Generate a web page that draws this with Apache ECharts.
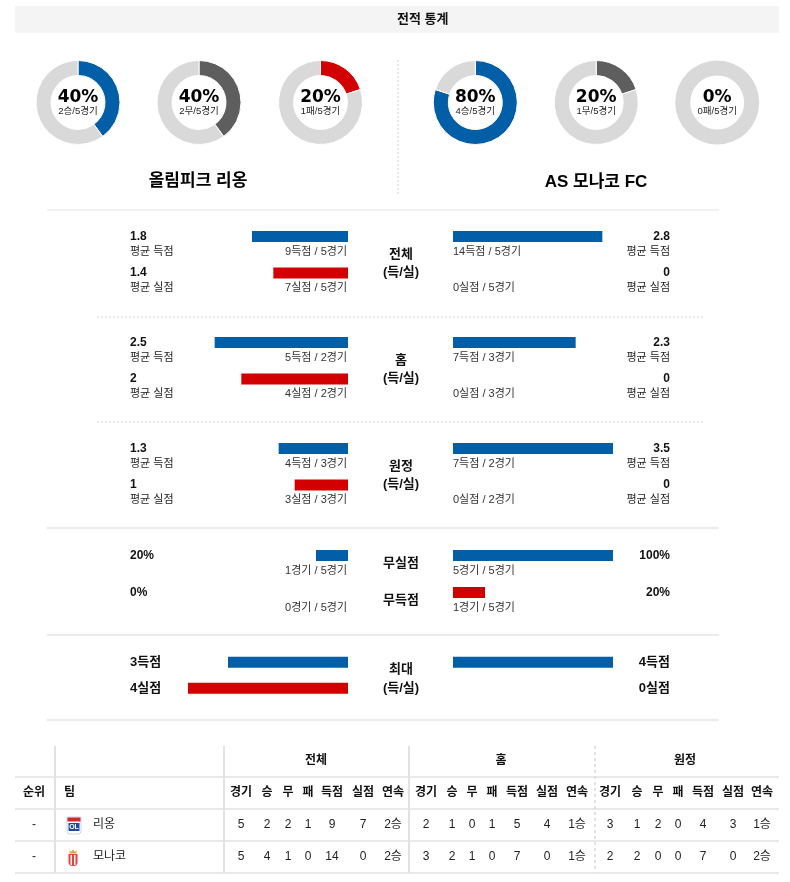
<!DOCTYPE html>
<html><head><meta charset="utf-8">
<script src="https://cdn.jsdelivr.net/npm/echarts@6/dist/echarts.min.js"></script>
<style>html,body{margin:0;padding:0;background:#fff}#c{width:790px;height:882px}</style>
</head><body><div id="c"></div><script>
// ---------------- data ----------------
const teamNames = ['올림피크 리옹', 'AS 모나코 FC'];
const shortNames = ['리옹', '모나코'];
const gamesTotal = [5, 5];
const resultKinds = ['승', '무', '패'];
const lyonResults = [2, 2, 1];
const monacoResults = [4, 1, 0];

const splitNames = ['전체', '홈', '원정'];
const lyonGames = [5, 2, 3];
const lyonGF = [9, 5, 4];
const lyonGA = [7, 4, 3];
const lyonAvgGF = [1.8, 2.5, 1.3];
const lyonAvgGA = [1.4, 2, 1];
const monacoGames = [5, 3, 2];
const monacoGF = [14, 7, 7];
const monacoGA = [0, 0, 0];
const monacoAvgGF = [2.8, 2.3, 3.5];
const monacoAvgGA = [0, 0, 0];

const zeroNames = ['무실점', '무득점'];
const lyonZeroGames = [1, 0];
const monacoZeroGames = [5, 1];

const maxNames = ['최대', '(득/실)'];
const lyonMax = [3, 4];
const monacoMax = [4, 0];

const tableGroups = ['전체', '홈', '원정'];
const tableCols = ['경기', '승', '무', '패', '득점', '실점', '연속'];
const lyonTable = [[5, 2, 2, 1, 9, 7, '2승'], [2, 1, 0, 1, 5, 4, '1승'], [3, 1, 2, 0, 4, 3, '1승']];
const monacoTable = [[5, 4, 1, 0, 14, 0, '2승'], [3, 2, 1, 0, 7, 0, '1승'], [2, 2, 0, 0, 7, 0, '2승']];

const avgAxisMax = 3, pctAxisMax = 100, maxAxisMax = 4;

// ---------------- style ----------------
const BLUE = '#025ea6', RED = '#d20000', DGRAY = '#5e5e5e', LGRAY = '#d9d9d9';
const LAT = '"Liberation Sans", Arial, "Noto Sans CJK KR", sans-serif';
const DJV = '"DejaVu Sans", "Noto Sans CJK KR", sans-serif';
const LINE = '#e4e4e4';

const g = [];
function txt(x, y, s, o) {
  o = o || {};
  g.push({ type: 'text', silent: true, z: 10, style: {
    x: x, y: y, text: String(s), fill: o.color || '#111',
    fontSize: o.size || 11, fontWeight: o.weight || 'normal', fontFamily: o.family || LAT,
    align: o.align || 'left', verticalAlign: 'middle' } });
}
function line(x1, y1, x2, y2, o) {
  o = o || {};
  g.push({ type: 'line', silent: true, z: 1, shape: { x1, y1, x2, y2 },
    style: { stroke: o.color || LINE, lineWidth: o.w || 1, lineDash: o.dash || null } });
}
function rect(x, y, w, h, fill, z) {
  g.push({ type: 'rect', silent: true, z: z || 5, shape: { x, y, width: w, height: h }, style: { fill } });
}

// title bar
rect(15, 6, 764, 27, '#f4f4f4', 0);
txt(397, 19.5, '전적 통계', { size: 13, weight: 'bold' });

// donuts
const series = [];
const donutX = [[78, 199, 320.5], [475.3, 596.2, 717.2]];
const donutY = 102.5;
const donutColors = [BLUE, DGRAY, RED];
[lyonResults, monacoResults].forEach((res, t) => {
  res.forEach((v, k) => {
    const pct = Math.round(v / gamesTotal[t] * 100);
    const both = v > 0 && v < gamesTotal[t];
    series.push({
      type: 'pie', silent: true, animation: false, center: [donutX[t][k], donutY], radius: [27, 42],
      startAngle: 90, label: { show: false }, labelLine: { show: false },
      data: [
        { value: v, itemStyle: { color: donutColors[k], borderColor: '#fff', borderWidth: both ? 1 : 0 } },
        { value: gamesTotal[t] - v, itemStyle: { color: LGRAY, borderColor: '#fff', borderWidth: both ? 1 : 0 } }
      ]
    });
    txt(donutX[t][k], donutY - 4.5, pct + '%', { size: 17, weight: 'bold', family: DJV, align: 'center', color: '#000' });
    txt(donutX[t][k], donutY + 9, v + resultKinds[k] + '/' + gamesTotal[t] + '경기', { size: 9.5, align: 'center', color: '#222' });
  });
});
line(398, 60, 398, 196, { dash: [2, 2], w: 1.5 });
txt(198, 181, teamNames[0], { size: 17, weight: 'bold', align: 'center', color: '#000' });
txt(596, 182, teamNames[1], { size: 17, weight: 'bold', align: 'center', color: '#000' });

// separators
line(47, 210, 719, 210, { w: 1 });
line(97, 317, 705, 317, { dash: [2, 2], w: 1.5 });
line(97, 422, 705, 422, { dash: [2, 2], w: 1.5 });
line(47, 528, 719, 528, { w: 1.5 });
line(47, 635, 719, 635, { w: 1.5 });
line(47, 720, 719, 720, { w: 1.5 });

// bar rows
const rowsY = [[236.5, 273], [342.5, 379], [448.5, 485], [555.5, 592.5], [662.3, 688.3]];
const grids = [], xAxes = [], yAxes = [];
function barGrid(side, rows, vals, colors, max) {
  const idx = grids.length;
  const gap = rows[1] - rows[0];
  grids.push({ left: side === 'L' ? 188 : 453, width: 160, top: rows[0] - gap / 2, height: gap * 2 });
  xAxes.push({ type: 'value', gridIndex: idx, min: 0, max: max, inverse: side === 'L', show: false });
  yAxes.push({ type: 'category', gridIndex: idx, data: ['a', 'b'], inverse: true, show: false });
  series.push({ type: 'bar', xAxisIndex: idx, yAxisIndex: idx, barWidth: 11, silent: true, animation: false,
    data: vals.map((v, i) => ({ value: v, itemStyle: { color: colors[i] } })) });
}
const gf = ' 득점', ga = ' 실점';
splitNames.forEach((nm, i) => {
  const r = rowsY[i];
  barGrid('L', r, [lyonAvgGF[i], lyonAvgGA[i]], [BLUE, RED], avgAxisMax);
  barGrid('R', r, [monacoAvgGF[i], monacoAvgGA[i]], [BLUE, RED], avgAxisMax);
  // left texts
  txt(130, r[0], lyonAvgGF[i], { size: 12, weight: 'bold' });
  txt(130, r[0] + 15, '평균' + gf, { size: 11, color: '#222' });
  txt(347, r[0] + 15, lyonGF[i] + '득점 / ' + lyonGames[i] + '경기', { size: 11, align: 'right', color: '#333' });
  txt(130, r[1], lyonAvgGA[i], { size: 12, weight: 'bold' });
  txt(130, r[1] + 15, '평균' + ga, { size: 11, color: '#222' });
  txt(347, r[1] + 15, lyonGA[i] + '실점 / ' + lyonGames[i] + '경기', { size: 11, align: 'right', color: '#333' });
  // right texts
  txt(670, r[0], monacoAvgGF[i], { size: 12, weight: 'bold', align: 'right' });
  txt(670, r[0] + 15, '평균' + gf, { size: 11, align: 'right', color: '#222' });
  txt(453, r[0] + 15, monacoGF[i] + '득점 / ' + monacoGames[i] + '경기', { size: 11, color: '#333' });
  txt(670, r[1], monacoAvgGA[i], { size: 12, weight: 'bold', align: 'right' });
  txt(670, r[1] + 15, '평균' + ga, { size: 11, align: 'right', color: '#222' });
  txt(453, r[1] + 15, monacoGA[i] + '실점 / ' + monacoGames[i] + '경기', { size: 11, color: '#333' });
  // center
  txt(401, r[0] + 18, nm, { size: 13, weight: 'bold', align: 'center' });
  txt(401, r[0] + 36, '(득/실)', { size: 13, weight: 'bold', align: 'center' });
});

// clean sheets / failed to score
{
  const r = rowsY[3];
  const lp = lyonZeroGames.map(v => v / gamesTotal[0] * 100);
  const mp = monacoZeroGames.map(v => v / gamesTotal[1] * 100);
  barGrid('L', r, lp, [BLUE, RED], pctAxisMax);
  barGrid('R', r, mp, [BLUE, RED], pctAxisMax);
  [0, 1].forEach(j => {
    txt(130, r[j], lp[j] + '%', { size: 12, weight: 'bold' });
    txt(347, r[j] + 15, lyonZeroGames[j] + '경기 / ' + gamesTotal[0] + '경기', { size: 11, align: 'right', color: '#333' });
    txt(670, r[j], mp[j] + '%', { size: 12, weight: 'bold', align: 'right' });
    txt(453, r[j] + 15, monacoZeroGames[j] + '경기 / ' + gamesTotal[1] + '경기', { size: 11, color: '#333' });
    txt(401, r[j] + 8, zeroNames[j], { size: 13, weight: 'bold', align: 'center' });
  });
}

// max
{
  const r = rowsY[4];
  barGrid('L', r, lyonMax, [BLUE, RED], maxAxisMax);
  barGrid('R', r, monacoMax, [BLUE, RED], maxAxisMax);
  const suf = ['득점', '실점'];
  [0, 1].forEach(j => {
    txt(130, r[j], lyonMax[j] + suf[j], { size: 13, weight: 'bold' });
    txt(670, r[j], monacoMax[j] + suf[j], { size: 13, weight: 'bold', align: 'right' });
  });
  txt(401, 669, maxNames[0], { size: 13, weight: 'bold', align: 'center' });
  txt(401, 688, maxNames[1], { size: 13, weight: 'bold', align: 'center' });
}

// ---------------- table ----------------
const TL = '#e2e2e2';
[777, 809, 841, 873].forEach(y => line(15, y, 779, y, { color: TL, w: 1.5 }));
line(55, 746, 55, 873, { color: TL, w: 2 });
line(224, 746, 224, 873, { color: TL, w: 2 });
line(409, 746, 409, 873, { color: TL, w: 2 });
line(595, 746, 595, 873, { color: TL, w: 2, dash: [3, 3] });
const groupX = [316, 501, 685];
const colX = [[241, 267, 288, 308, 332, 363, 393], [426, 452, 472, 492, 517, 547, 577], [610, 637, 658, 678, 703, 733, 762]];
tableGroups.forEach((nm, gi) => {
  txt(groupX[gi], 761, nm, { size: 12, weight: 'bold', align: 'center' });
  tableCols.forEach((c, ci) => txt(colX[gi][ci], 793, c, { size: 12, weight: 'bold', align: 'center' }));
  [lyonTable, monacoTable].forEach((tb, ti) => {
    tb[gi].forEach((v, ci) => txt(colX[gi][ci], 825 + ti * 32, v, { size: 12, align: 'center', color: '#222' }));
  });
});
txt(34, 793, '순위', { size: 12, weight: 'bold', align: 'center' });
txt(64, 793, '팀', { size: 12, weight: 'bold' });
shortNames.forEach((n, i) => {
  txt(34, 825 + i * 32, '-', { size: 12, align: 'center', color: '#222' });
  txt(93, 825 + i * 32, n, { size: 12, color: '#222' });
});
// Lyon crest
g.push({ type: 'rect', silent: true, z: 5, shape: { x: 67, y: 817, width: 14, height: 17, r: [1, 1, 3, 3] }, style: { fill: '#fff', stroke: '#c9d3e6', lineWidth: 1 } });
rect(67.5, 817.5, 13, 4, '#d8262e', 6);
rect(68.5, 823, 11, 8, '#1f4b9b', 6);
txt(74, 827.3, 'OL', { size: 7, weight: 'bold', align: 'center', color: '#fff' });
// Monaco crest
g.push({ type: 'polygon', silent: true, z: 5, shape: { points: [[69.5, 850], [71, 852], [73, 849.5], [75, 852], [76.5, 850], [76.5, 853.5], [69.5, 853.5]] }, style: { fill: '#d4a93c' } });
g.push({ type: 'rect', silent: true, z: 5, shape: { x: 68.5, y: 854, width: 9, height: 12, r: [0, 0, 4, 4] }, style: { fill: '#e84040' } });
rect(70.5, 855, 1.5, 10, '#fff', 6);
rect(74, 855, 1.5, 10, '#fff', 6);

const chart = echarts.init(document.getElementById('c'), null, { renderer: 'canvas' });
chart.setOption({
  animation: false,
  backgroundColor: '#fff',
  grid: grids, xAxis: xAxes, yAxis: yAxes,
  series: series,
  graphic: { elements: g }
});
</script></body></html>
